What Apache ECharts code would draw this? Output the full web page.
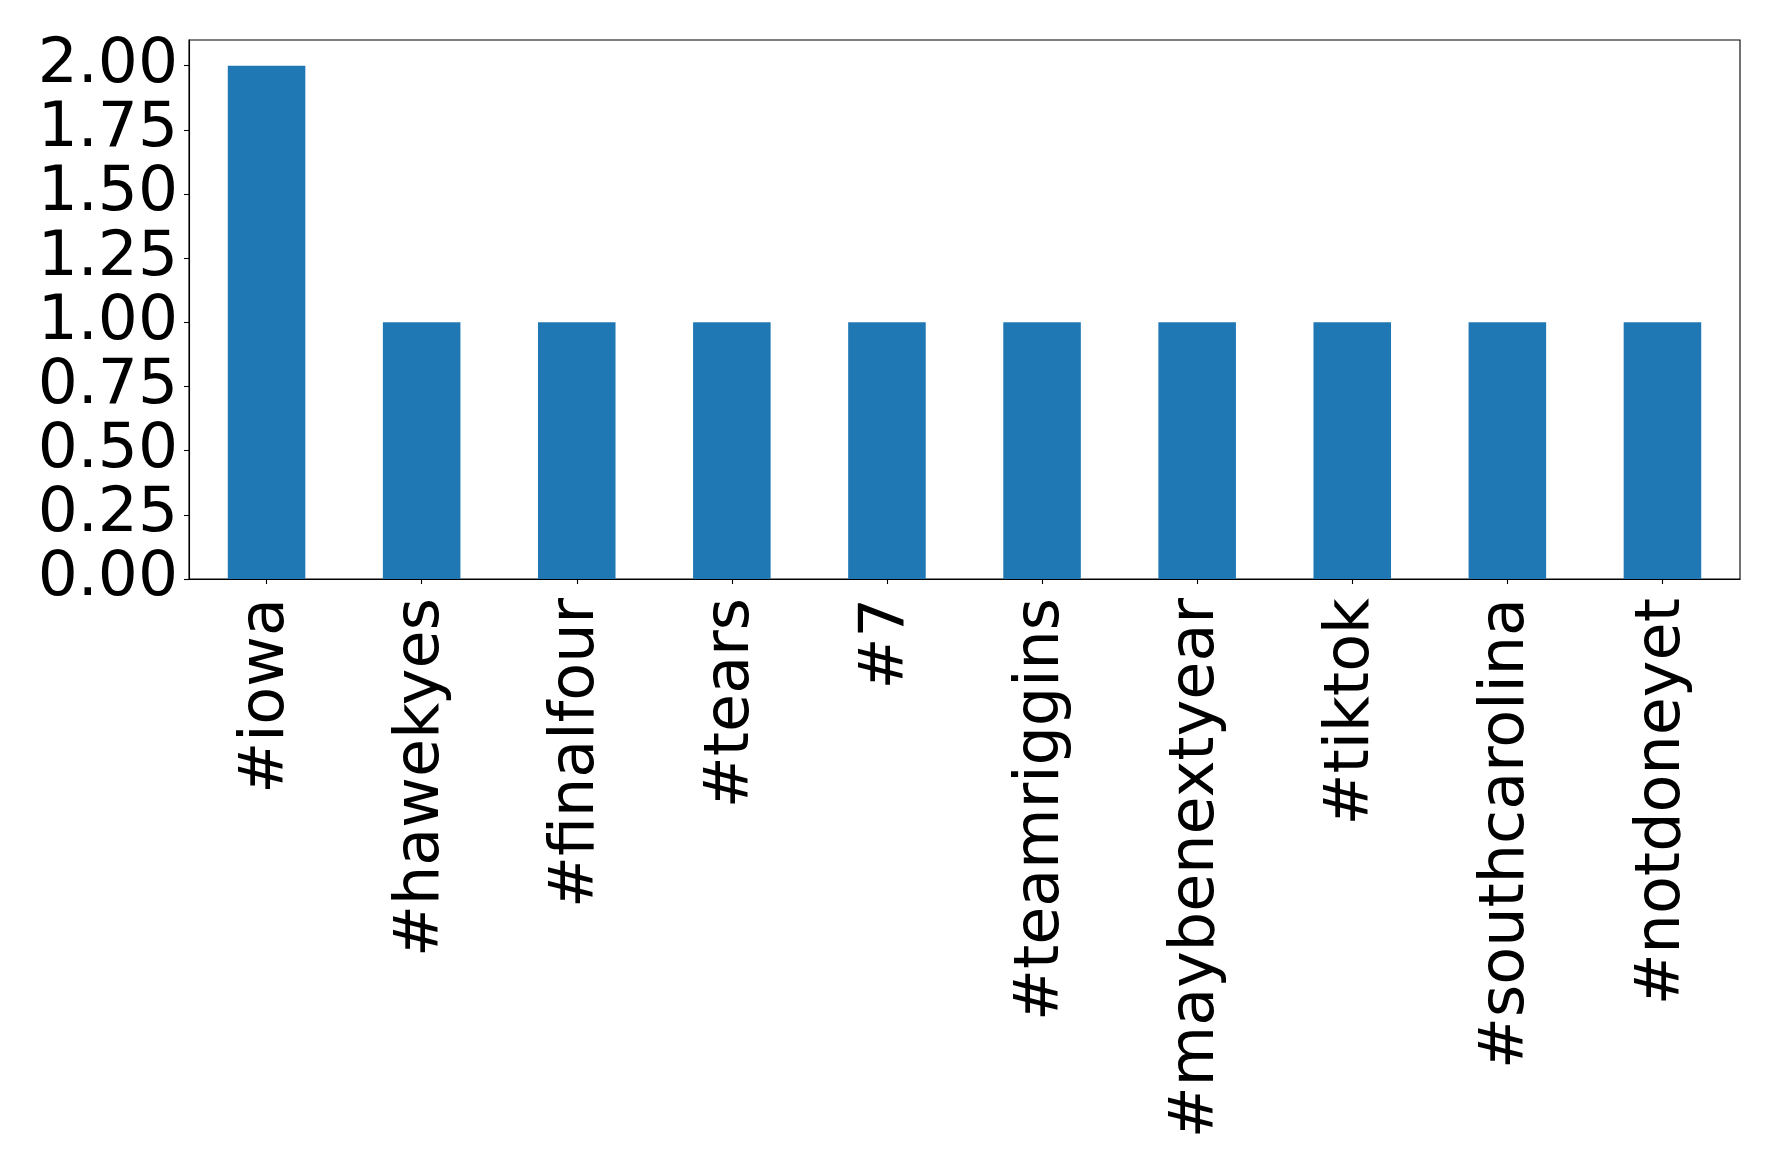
<!DOCTYPE html>
<html><head><meta charset="utf-8">
<script src="https://cdn.jsdelivr.net/npm/echarts@6/dist/echarts.min.js"></script>
<style>html,body{margin:0;padding:0;background:#fff}#c{width:1778px;height:1173px}</style>
</head><body><div id="c"></div>
<script>
const categories = ['#iowa','#hawekyes','#finalfour','#tears','#7','#teamriggins','#maybenextyear','#tiktok','#southcarolina','#notdoneyet'];
const counts = [2,1,1,1,1,1,1,1,1,1];
const yTicks = [0,0.25,0.5,0.75,1.0,1.25,1.5,1.75,2.0];

const chart = echarts.init(document.getElementById('c'), null, {renderer:'canvas'});
const font = 'DejaVu Sans';
chart.setOption({
  animation:false,
  backgroundColor:'#fff',
  grid:{left:189,top:40,right:38,bottom:594,show:true,borderColor:'#000',borderWidth:1.1,backgroundColor:'transparent'},
  xAxis:{type:'category',data:categories,
    axisLine:{show:true,lineStyle:{color:'#000',width:1.1}},
    axisTick:{show:true,alignWithLabel:true,length:5,lineStyle:{color:'#000',width:1.1}},
    axisLabel:{rotate:90,margin:19,color:'#000',fontFamily:font,fontSize:62,interval:0}},
  yAxis:{type:'value',min:0,max:2.1,interval:0.25,
    splitLine:{show:false},
    axisLine:{show:true,lineStyle:{color:'#000',width:1.1}},
    axisTick:{show:true,length:5,lineStyle:{color:'#000',width:1.1},
      customValues:yTicks},
    axisLabel:{margin:11,color:'#000',fontFamily:font,fontSize:63,padding:[8,0,0,0],
      customValues:yTicks,
      formatter:v=>yTicks.some(t=>Math.abs(t-v)<1e-9)?v.toFixed(2):''}},
  series:[{type:'bar',data:counts,barWidth:'50%',itemStyle:{color:'#1f77b4'}}]
});
</script></body></html>
